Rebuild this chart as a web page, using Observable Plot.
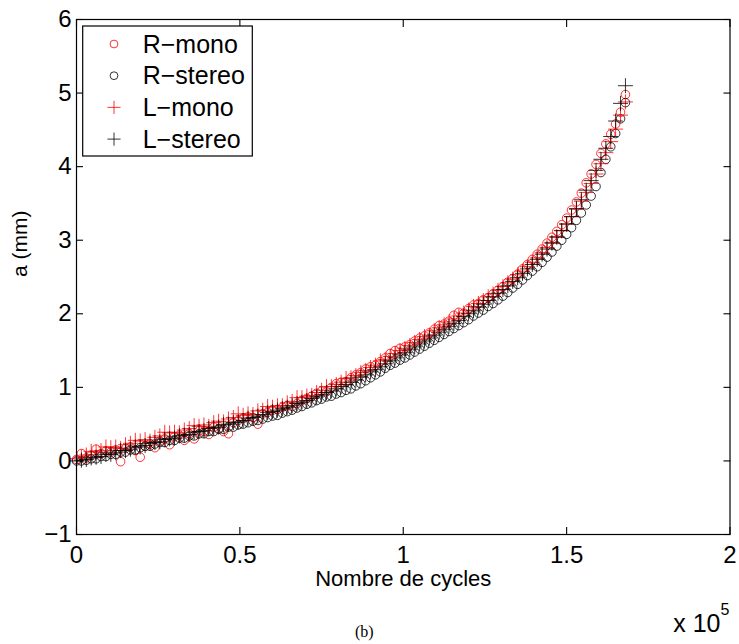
<!DOCTYPE html>
<html><head><meta charset="utf-8">
<script src="https://cdn.jsdelivr.net/npm/d3@7"></script>
<script src="https://cdn.jsdelivr.net/npm/@observablehq/plot@0.6"></script>
<style>body{margin:0;background:#fff;} #chart svg{font-family:"Liberation Sans",Arial,sans-serif;}</style>
</head><body><div id="chart"></div>
<script>
const cycles = [
0,1500,3000,4500,6000,7500,9000,10500,12000,13500,
15000,16500,18000,19500,21000,22500,24000,25500,27000,28500,
30000,31500,33000,34500,36000,37500,39000,40500,42000,43500,
45000,46500,48000,49500,51000,52500,54000,55500,57000,58500,
60000,61500,63000,64500,66000,67500,69000,70500,72000,73500,
75000,76500,78000,79500,81000,82500,84000,85500,87000,88500,
90000,91500,93000,94500,96000,97500,99000,100500,102000,103500,
105000,106500,108000,109500,111000,112500,114000,115500,117000,118500,
120000,121500,123000,124500,126000,127500,129000,130500,132000,133500,
135000,136500,138000,139500,141000,142500,144000,145500,147000,148500,
150000,151500,153000,154500,156000,157500,159000,160500,162000,163500,
165000,166500,168000];

const rMono = [
0.02,0.10,0.04,0.08,0.16,0.10,0.14,0.12,0.15,-0.01,
0.17,0.19,0.14,0.05,0.20,0.23,0.18,0.27,0.30,0.22,
0.33,0.35,0.28,0.37,0.30,0.41,0.40,0.36,0.46,0.44,
0.40,0.37,0.52,0.55,0.58,0.60,0.59,0.50,0.64,0.66,
0.69,0.70,0.73,0.75,0.74,0.78,0.82,0.85,0.88,0.92,
0.95,0.94,1.00,1.05,1.07,1.08,1.13,1.17,1.20,1.25,
1.28,1.30,1.35,1.40,1.46,1.50,1.53,1.55,1.58,1.63,
1.67,1.70,1.74,1.79,1.84,1.86,1.90,1.98,2.02,2.01,
2.07,2.12,2.14,2.19,2.22,2.27,2.32,2.37,2.43,2.48,
2.54,2.61,2.67,2.74,2.81,2.88,2.96,3.04,3.12,3.21,
3.30,3.41,3.52,3.64,3.78,3.90,4.03,4.18,4.31,4.44,
4.58,4.74,4.98];

const rStereo = [
0.00,0.00,0.01,0.03,0.03,0.06,0.06,0.09,0.09,0.12,
0.12,0.15,0.15,0.18,0.20,0.20,0.23,0.25,0.25,0.28,
0.28,0.31,0.31,0.34,0.34,0.37,0.37,0.40,0.40,0.43,
0.43,0.46,0.46,0.49,0.50,0.52,0.54,0.55,0.57,0.59,
0.61,0.62,0.65,0.67,0.69,0.72,0.74,0.77,0.79,0.82,
0.84,0.87,0.88,0.91,0.93,0.96,0.98,1.02,1.05,1.09,
1.13,1.17,1.21,1.26,1.30,1.33,1.37,1.40,1.44,1.48,
1.52,1.56,1.60,1.64,1.68,1.72,1.76,1.80,1.84,1.88,
1.92,1.97,2.01,2.05,2.10,2.14,2.19,2.24,2.29,2.35,
2.40,2.46,2.52,2.58,2.64,2.70,2.77,2.84,2.92,3.00,
3.08,3.17,3.27,3.37,3.48,3.60,3.73,3.92,4.10,4.27,
4.45,4.65,4.87];

const lMono = [
0.03,0.05,0.08,0.13,0.12,0.14,0.19,0.18,0.19,0.17,
0.22,0.24,0.28,0.27,0.29,0.27,0.32,0.34,0.39,0.38,
0.39,0.38,0.42,0.44,0.48,0.47,0.49,0.47,0.52,0.54,
0.53,0.57,0.59,0.64,0.62,0.64,0.63,0.68,0.69,0.74,
0.73,0.75,0.75,0.79,0.81,0.86,0.86,0.88,0.89,0.93,
0.96,1.01,1.01,1.04,1.07,1.12,1.13,1.16,1.20,1.23,
1.27,1.30,1.36,1.38,1.42,1.46,1.50,1.53,1.57,1.61,
1.65,1.69,1.71,1.77,1.81,1.85,1.89,1.93,1.97,2.01,
2.05,2.10,2.14,2.18,2.23,2.27,2.32,2.37,2.42,2.47,
2.53,2.58,2.64,2.70,2.76,2.83,2.90,2.97,3.05,3.13,
3.22,3.32,3.42,3.53,3.65,3.77,3.90,4.04,4.19,4.34,
4.51,4.70,4.88];

const lStereo = [
0.00,0.01,0.02,0.04,0.05,0.06,0.09,0.09,0.11,0.14,
0.14,0.16,0.19,0.19,0.21,0.24,0.25,0.26,0.29,0.30,
0.31,0.34,0.35,0.36,0.39,0.40,0.41,0.44,0.45,0.46,
0.49,0.50,0.52,0.53,0.55,0.58,0.59,0.61,0.63,0.66,
0.67,0.69,0.71,0.73,0.75,0.78,0.80,0.82,0.85,0.87,
0.90,0.93,0.95,0.98,1.01,1.04,1.07,1.10,1.14,1.17,
1.21,1.24,1.28,1.32,1.36,1.40,1.44,1.47,1.51,1.55,
1.59,1.63,1.67,1.71,1.75,1.79,1.83,1.87,1.91,1.96,
2.00,2.04,2.09,2.13,2.18,2.23,2.28,2.33,2.38,2.44,
2.49,2.55,2.61,2.67,2.74,2.81,2.88,2.96,3.04,3.13,
3.22,3.32,3.43,3.55,3.68,3.81,3.95,4.10,4.25,4.41,
4.62,4.86,5.10];

const seriesNames = ["R\u2212mono", "R\u2212stereo", "L\u2212mono", "L\u2212stereo"];
const seriesColors = ["#ff0000", "#000000", "#ff0000", "#000000"];
const seriesSymbols = ["circle", "circle", "plus", "plus"];
const seriesValues = [rMono, rStereo, lMono, lStereo];

const xTicks = [0, 50000, 100000, 150000, 200000];
const xTickLabels = ["0", "0.5", "1", "1.5", "2"];
const yTicks = [-1, 0, 1, 2, 3, 4, 5, 6];
const yTickLabels = ["\u22121", "0", "1", "2", "3", "4", "5", "6"];

const xLabel = "Nombre de cycles";
const yLabel = "a (mm)";
const caption = "(b)";

const series = seriesNames.map((name, i) => ({
  name, color: seriesColors[i], symbol: seriesSymbols[i],
  data: cycles.map((c, j) => ({x: c, y: seriesValues[i][j]})).filter(d => d.y != null)
}));

const W = 739, H = 644, mL = 76, mR = 9.5, mT = 19, mB = 110;
const tickLen = 7;
const symR = {circle: 4.3, plus: 4.9};
const tickFont = 24;
const noText = () => "";

const plot = Plot.plot({
  width: W, height: H,
  marginLeft: mL, marginRight: mR, marginTop: mT, marginBottom: mB,
  style: {fontFamily: "'Liberation Sans', Arial, sans-serif", background: "white", color: "black", overflow: "visible"},
  x: {domain: [0, 200000]},
  y: {domain: [-1, 6]},
  marks: [
    ...series.map(s => Plot.dot(s.data, {x: "x", y: "y", symbol: s.symbol, r: symR[s.symbol], stroke: s.color, fill: "none", strokeWidth: 0.8})),
    // inward ticks on all four sides (outward ticks shifted inside by their length)
    Plot.axisX(xTicks, {anchor: "bottom", tickSize: tickLen, dy: -tickLen, tickFormat: noText, label: null, stroke: "black", strokeWidth: 1.1}),
    Plot.axisX(xTicks, {anchor: "top", tickSize: tickLen, dy: tickLen, tickFormat: noText, label: null, stroke: "black", strokeWidth: 1.1}),
    Plot.axisY(yTicks, {anchor: "left", tickSize: tickLen, dx: tickLen, tickFormat: noText, label: null, stroke: "black", strokeWidth: 1.1}),
    Plot.axisY(yTicks, {anchor: "right", tickSize: tickLen, dx: -tickLen, tickFormat: noText, label: null, stroke: "black", strokeWidth: 1.1}),
    Plot.frame({stroke: "black", strokeWidth: 1.2}),
    // tick labels
    Plot.axisX(xTicks, {anchor: "bottom", tickSize: 0, tickPadding: 11, fontSize: tickFont, label: null,
      tickFormat: (d) => xTickLabels[xTicks.indexOf(d)]}),
    Plot.axisY(yTicks, {anchor: "left", tickSize: 0, tickPadding: 5, fontSize: tickFont, label: null,
      tickFormat: (d) => yTickLabels[yTicks.indexOf(d)]}),
    // axis titles
    Plot.text([xLabel], {frameAnchor: "bottom", dy: 51, fontSize: 22, fill: "black"}),
    Plot.text([yLabel], {frameAnchor: "left", dx: -56, rotate: -90, fontSize: 21, fill: "black"}),
    // exponent multiplier
    Plot.text(["x 10"], {frameAnchor: "bottom-right", dx: -9.5, dy: 97, textAnchor: "end", fontSize: 25, fill: "black"}),
    Plot.text(["5"], {frameAnchor: "bottom-right", dx: -0.5, dy: 80, textAnchor: "end", fontSize: 16, fill: "black"}),
    // caption
    Plot.text([caption], {frameAnchor: "bottom", dx: -39, dy: 102, fontSize: 16, fill: "black", fontFamily: "'Liberation Serif', 'Times New Roman', serif"})
  ]
});

// legend (inside the axes, top-left)
const svg = d3.select(plot);
const lg = svg.append("g").attr("transform", "translate(82.7,26)");
lg.append("rect").attr("width", 169.6).attr("height", 130).attr("fill", "white").attr("stroke", "black").attr("stroke-width", 1.2);
const d3sym = {circle: d3.symbolCircle, plus: d3.symbolPlus};
series.forEach((s, i) => {
  const cy = 18 + i * 31.7;
  const r = s.symbol === "plus" ? 4.3 : 3.9;
  lg.append("path")
    .attr("transform", `translate(31.3,${cy})`)
    .attr("d", d3.symbol(d3sym[s.symbol], Math.PI * r * r)())
    .attr("fill", "none").attr("stroke", s.color).attr("stroke-width", 0.8);
  lg.append("text").attr("x", 60).attr("y", cy).attr("dy", "0.35em")
    .attr("text-anchor", "start")
    .attr("font-size", 25).attr("fill", "black").text(s.name);
});

document.getElementById("chart").appendChild(plot);
</script>
</body></html>
